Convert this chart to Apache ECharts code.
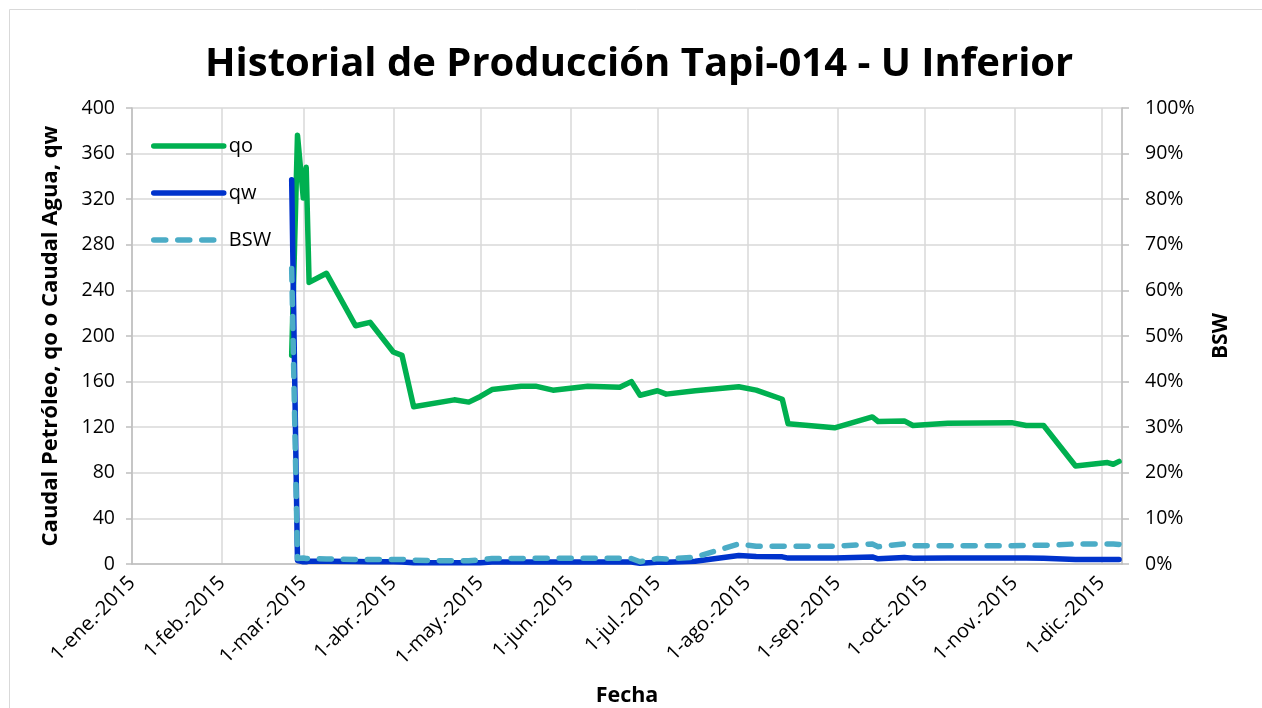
<!DOCTYPE html>
<html>
<head>
<meta charset="utf-8">
<title>Historial de Producción Tapi-014 - U Inferior</title>
<script src="https://cdn.jsdelivr.net/npm/echarts@6/dist/echarts.min.js"></script>
<style>
  html, body { margin: 0; padding: 0; background: #ffffff; }
  #chart { width: 1262px; height: 708px; }
</style>
</head>
<body>
<div id="chart"></div>
<script>
// Production history, well Tapi-014, U Inferior sand (2015)
const fechas = [
  '2015-02-25', '2015-02-27', '2015-03-01', '2015-03-02', '2015-03-03', '2015-03-09',
  '2015-03-19', '2015-03-24', '2015-04-01', '2015-04-04', '2015-04-08', '2015-04-22',
  '2015-04-27', '2015-05-01', '2015-05-05', '2015-05-15', '2015-05-20', '2015-05-26',
  '2015-06-07', '2015-06-18', '2015-06-22', '2015-06-25', '2015-07-01', '2015-07-04',
  '2015-07-14', '2015-07-29', '2015-08-04', '2015-08-13', '2015-08-15', '2015-08-31',
  '2015-09-13', '2015-09-15', '2015-09-24', '2015-09-27', '2015-10-09', '2015-10-31',
  '2015-11-05', '2015-11-11', '2015-11-22', '2015-12-03', '2015-12-05', '2015-12-07'
];
// oil rate qo
const qo = [
  183, 376, 321, 348, 247, 255,
  209, 212, 186, 183, 138, 144,
  142, 147, 153, 156, 156, 152.5,
  156, 155, 160, 148, 152, 149,
  152, 155.5, 152.5, 144.5, 123, 119.5,
  129, 125, 125.5, 121.5, 123.5, 124,
  121.5, 121.5, 86, 89, 87.5, 90
];
// water rate qw
const qw = [
  337, 3, 2, 2, 2.5, 2.5,
  2.2, 2, 2, 1.8, 1.2, 1,
  1, 1.2, 1.8, 1.8, 1.8, 1.8,
  1.8, 1.8, 1.8, 0.7, 1.5, 1.5,
  2.5, 7.5, 6.5, 6.3, 5.2, 5.2,
  6.2, 4.6, 5.8, 5.0, 5.2, 5.2,
  5.2, 5.0, 4.0, 4.0, 4.0, 4.0
];
// BSW, %
const bsw = [
  64.8, 1.2, 1.3, 1.2, 1.2, 1.1,
  1.0, 1.0, 1.0, 1.0, 0.8, 0.7,
  0.7, 0.9, 1.2, 1.2, 1.25, 1.25,
  1.25, 1.25, 1.2, 0.5, 1.2, 1.1,
  1.5, 4.4, 3.9, 3.9, 3.9, 3.9,
  4.4, 3.8, 4.4, 4.0, 4.0, 4.0,
  4.1, 4.1, 4.4, 4.4, 4.4, 4.3
];
// left axis: 0..400 step 40, right axis: 0..100 % step 10
const qTicks = { min: 0, max: 400, step: 40 };
const bswTicks = { min: 0, max: 100, step: 10 };
const rangoFechas = ['2015-01-01', '2015-12-08'];
const meses = ['ene.', 'feb.', 'mar.', 'abr.', 'may.', 'jun.', 'jul.', 'ago.', 'sep.', 'oct.', 'nov.', 'dic.'];

const FONT = '"Open Sans", "Noto Sans", sans-serif';
const GRID_COLOR = '#d9d9d9';
const AXIS_COLOR = '#bfbfbf';
const LINE_W = 5.5;

const pairs = (vals) => fechas.map((f, i) => [f, vals[i]]);

const chart = echarts.init(document.getElementById('chart'), null, { renderer: 'canvas' });

chart.setOption({
  backgroundColor: '#ffffff',
  animation: false,
  textStyle: { fontFamily: FONT, color: '#000000' },
  graphic: [{
    type: 'rect',
    shape: { x: 9.5, y: 9.5, width: 1262, height: 720 },
    style: { fill: 'none', stroke: '#d9d9d9', lineWidth: 1 },
    silent: true,
    z: -10
  }],
  title: {
    text: 'Historial de Producción Tapi-014 - U Inferior',
    left: 200,
    top: 40,
    textStyle: { fontFamily: FONT, fontSize: 40, fontWeight: 'bold', color: '#000000' }
  },
  legend: {
    orient: 'vertical',
    left: 146,
    top: 131,
    itemWidth: 70,
    itemHeight: 14,
    itemGap: 27,
    itemStyle: { opacity: 0 },
    lineStyle: { width: LINE_W, cap: 'round' },
    textStyle: { fontFamily: FONT, fontSize: 20, color: '#000000' },
    data: ['qo', 'qw', 'BSW']
  },
  grid: { left: 132, right: 140, top: 108, bottom: 144, containLabel: false, outerBoundsMode: 'none' },
  xAxis: {
    type: 'time',
    min: rangoFechas[0],
    max: rangoFechas[1],
    splitNumber: 11,
    name: 'Fecha',
    nameLocation: 'middle',
    nameGap: 121,
    nameTextStyle: { fontFamily: FONT, fontSize: 21.5, fontWeight: 'bold', color: '#000000' },
    axisLine: { show: true, lineStyle: { color: AXIS_COLOR, width: 1.5 } },
    axisTick: { show: false },
    splitLine: { show: true, lineStyle: { color: GRID_COLOR, width: 1.5 } },
    axisLabel: {
      rotate: 45,
      margin: 16,
      fontFamily: FONT,
      fontSize: 20,
      color: '#000000',
      hideOverlap: false,
      formatter: (val) => {
        const d = new Date(val);
        return d.getDate() + '-' + meses[d.getMonth()] + '-' + d.getFullYear();
      }
    }
  },
  yAxis: [{
    type: 'value',
    min: qTicks.min,
    max: qTicks.max,
    interval: qTicks.step,
    name: 'Caudal Petróleo, qo o Caudal Agua, qw',
    nameLocation: 'middle',
    nameRotate: 90,
    nameGap: 70,
    nameTextStyle: { fontFamily: FONT, fontSize: 22, fontWeight: 'bold', color: '#000000' },
    axisLine: { show: true, lineStyle: { color: AXIS_COLOR, width: 1.5 } },
    axisTick: { show: true, length: 6, lineStyle: { color: AXIS_COLOR, width: 1.5 } },
    splitLine: { show: true, lineStyle: { color: GRID_COLOR, width: 1.5 } },
    axisLabel: { margin: 17, fontFamily: FONT, fontSize: 19.5, color: '#000000' }
  }, {
    type: 'value',
    position: 'right',
    min: bswTicks.min,
    max: bswTicks.max,
    interval: bswTicks.step,
    name: 'BSW',
    nameLocation: 'middle',
    nameRotate: 90,
    nameGap: 89,
    nameTextStyle: { fontFamily: FONT, fontSize: 21, fontWeight: 'bold', color: '#000000' },
    axisLine: { show: true, lineStyle: { color: AXIS_COLOR, width: 1.5 } },
    axisTick: { show: true, length: 7, lineStyle: { color: AXIS_COLOR, width: 1.5 } },
    splitLine: { show: false },
    axisLabel: { margin: 23, fontFamily: FONT, fontSize: 19.5, color: '#000000', formatter: '{value}%' }
  }],
  series: [{
    name: 'qo',
    type: 'line',
    yAxisIndex: 0,
    showSymbol: false,
    symbol: 'none',
    data: pairs(qo),
    lineStyle: { color: '#00b050', width: LINE_W, cap: 'round', join: 'round' },
    itemStyle: { color: '#00b050' },
    z: 3
  }, {
    name: 'qw',
    type: 'line',
    yAxisIndex: 0,
    showSymbol: false,
    symbol: 'none',
    data: pairs(qw),
    lineStyle: { color: '#0033cc', width: LINE_W, cap: 'round', join: 'round' },
    itemStyle: { color: '#0033cc' },
    z: 4
  }, {
    name: 'BSW',
    type: 'line',
    yAxisIndex: 1,
    showSymbol: false,
    symbol: 'none',
    data: pairs(bsw),
    lineStyle: { color: '#4bacc6', width: LINE_W, type: [12, 12], cap: 'round', join: 'round' },
    itemStyle: { color: '#4bacc6' },
    z: 5
  }]
});
</script>
</body>
</html>
